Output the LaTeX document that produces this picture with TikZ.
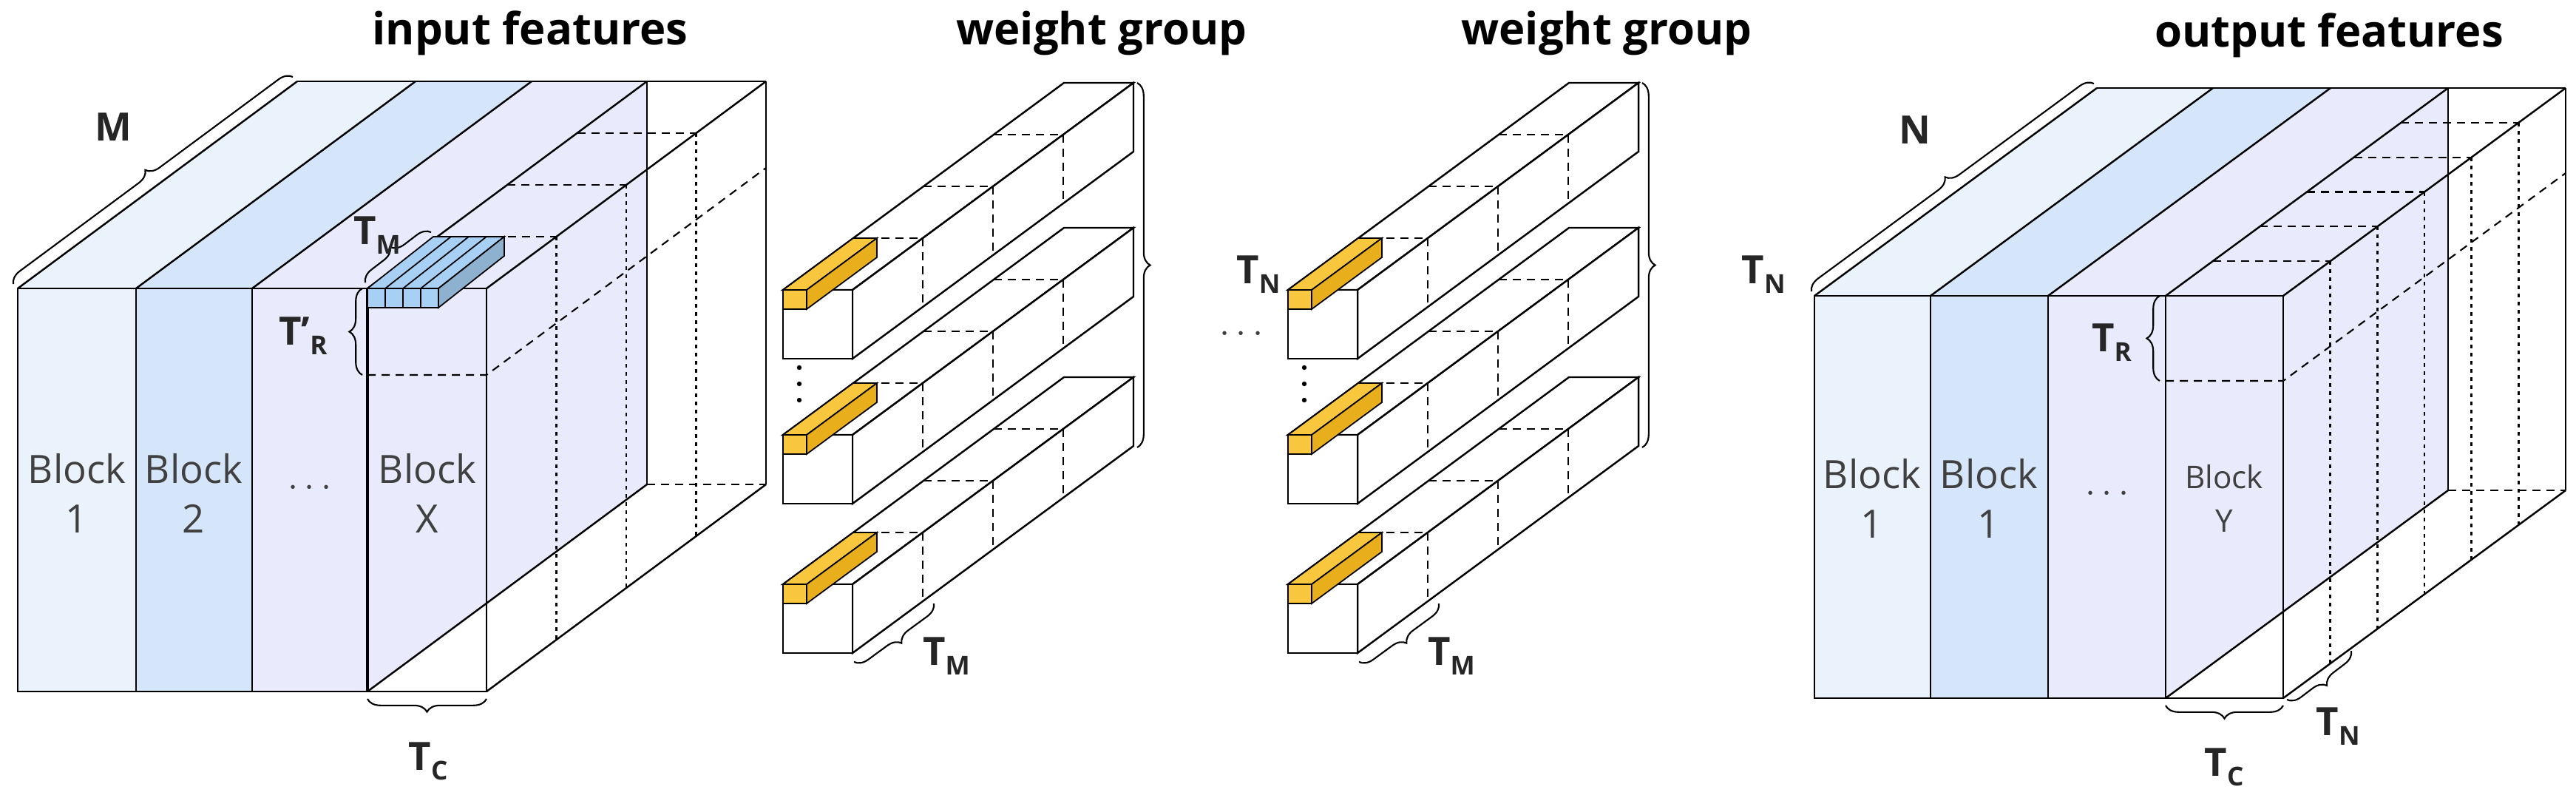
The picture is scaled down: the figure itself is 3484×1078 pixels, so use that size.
\documentclass[tikz,border=0pt]{standalone}
\usepackage{fontspec}
\setmainfont{Open Sans}
\usetikzlibrary{decorations.pathreplacing}
\definecolor{cA}{HTML}{EAF2FC}
\definecolor{cB}{HTML}{D6E6FA}
\definecolor{cC}{HTML}{E9EAFB}
\definecolor{tile}{HTML}{A8D0F5}
\definecolor{yel}{HTML}{F8C73E}
\definecolor{yelD}{HTML}{E9AE1C}
\newcommand\lbl[2]{#1\raisebox{-0.45ex}{\fontsize{10}{12}\selectfont #2}}
\tikzset{
  ln/.style={line width=0.7pt},
  thk/.style={line width=1.1pt},
  dsh/.style={line width=0.6pt,dash pattern=on 1.1mm off 0.8mm},
  dot/.style={line width=0.8pt,dash pattern=on 0.5mm off 0.6mm},
  brc/.style={decorate,decoration={brace,amplitude=5pt},line width=0.6pt},
  title/.style={font=\fontsize{17}{20}\selectfont\bfseries},
  lab/.style={font=\fontsize{15}{18}\selectfont\bfseries,text=black!85},
  blk/.style={font=\fontsize{15}{19}\selectfont,align=center,text=black!75},
}
\newcommand\wbox[2]{%
\begin{scope}[shift={(#1,#2)}]
  \filldraw[ln,fill=white] (0,0) -- (380,-280) -- (474,-280) -- (94,0) -- cycle;
  \filldraw[ln,fill=white] (94,0) -- (474,-280) -- (474,-187) -- (94,93) -- cycle;
  \filldraw[ln,fill=white] (0,0) rectangle (94,93);
  \foreach \t in {0.25,0.5,0.75}{
    \draw[dsh] ({380*\t},{-280*\t}) -- ({94+380*\t},{-280*\t});
    \draw[dsh] ({94+380*\t},{-280*\t}) -- ({94+380*\t},{93-280*\t});
  }
  \filldraw[line width=0.5pt,fill=yel] (0,0) -- (95,-70) -- (127,-70) -- (32,0) -- cycle;
  \filldraw[line width=0.5pt,fill=yelD] (32,0) -- (127,-70) -- (127,-44) -- (32,26) -- cycle;
  \filldraw[line width=0.5pt,fill=yel] (0,0) rectangle (32,26);
\end{scope}}
\begin{document}
\begin{tikzpicture}[x=0.01cm,y=-0.01cm]
\useasboundingbox (0,0) rectangle (3484,1078);
% ================= input cube
\fill[cA] (24,390) rectangle (184,935);
\fill[cA] (24,390) -- (184,390) -- (562,110) -- (402,110) -- cycle;
\fill[cB] (184,390) rectangle (341,935);
\fill[cB] (184,390) -- (341,390) -- (719,110) -- (562,110) -- cycle;
\fill[cC] (341,390) -- (341,935) -- (497,935) -- (875,655) -- (875,110) -- (719,110) -- cycle;
\foreach \t in {0.25,0.5,0.75}{
  \draw[dsh] ({497+378*\t},{390-280*\t}) -- ({658+378*\t},{390-280*\t});
  \draw[dot] ({658+378*\t},{390-280*\t}) -- ({658+378*\t},{935-280*\t});
}
\draw[dsh] (497,507) -- (658,507) -- (1036,227);
\draw[dsh] (875,655) -- (1036,655);
\draw[ln] (24,390) rectangle (658,935);
\foreach \x in {184,341}{\draw[ln] (\x,390) -- (\x,935);}
\draw[thk] (497,390) -- (497,935);
\foreach \x in {24,184,341,497,658}{\draw[ln] (\x,390) -- ++(378,-280);}
\draw[ln] (402,110) -- (1036,110);
\draw[ln] (875,110) -- (875,655);
\draw[ln] (1036,110) -- (1036,655);
\draw[ln] (497,935) -- (875,655);
\draw[ln] (658,935) -- (1036,655);
% tile
\filldraw[line width=0.5pt,fill=tile] (497,390) -- (586,320) -- (682,320) -- (593,390) -- cycle;
\filldraw[line width=0.5pt,fill=tile!85!black] (593,390) -- (682,320) -- (682,346) -- (593,416) -- cycle;
\filldraw[line width=0.5pt,fill=tile] (497,390) rectangle (593,416);
\foreach \x in {521,545,569}{\draw[line width=0.5pt] (\x,416) -- (\x,390) -- ++(89,-70);}
% braces
\draw[brc] (18,384) -- (396,104);
\draw[brc] (490,507) -- (490,390);
\draw[brc] (658,945) -- (497,945);
\draw[brc] (494,382) -- (583,314);
\node[lab] (M) at (153,172) {M};
\node[lab] (tm1) at (510,318) {\lbl{T}{M}};
\node[lab] (tr1) at (410,454) {\lbl{T'}{R}};
\node[lab] (tc1) at (579,1029) {\lbl{T}{C}};
\node[blk] (b11) at (104,667) {Block\\1};
\node[blk] (b12) at (262,667) {Block\\2};
\node[blk] (b13) at (419,660) {\textbf{$\cdots$}};
\node[blk] (b1x) at (578,667) {Block\\X};
\node[title] (t1) at (717,45) {input features};
% ================= weight groups
\foreach \gx in {1059,1742}{
  \wbox{\gx}{790}
  \wbox{\gx}{588}
  \wbox{\gx}{392}
  \foreach \dy in {497,519,541}{\fill (\gx+22,\dy) circle (3.2);}
}
\draw[brc] (1538,112) -- (1538,605);
\draw[brc] (2221,112) -- (2221,605);
\draw[brc] (1263,816) -- (1155,895);
\draw[brc] (1946,816) -- (1838,895);
\node[lab] (tn2) at (1702,371) {\lbl{T}{N}};
\node[lab] (tn3) at (2385,371) {\lbl{T}{N}};
\node[lab] (tm2) at (1280,887) {\lbl{T}{M}};
\node[lab] (tm3) at (1963,887) {\lbl{T}{M}};
\node[blk] (dots) at (1679,452) {$\cdots$};
\node[title] (t2) at (1490,45) {weight group};
\node[title] (t3) at (2173,45) {weight group};
% ================= output cube
\fill[cA] (2454,400) rectangle (2611,944);
\fill[cA] (2454,400) -- (2611,400) -- (2993,119) -- (2836,119) -- cycle;
\fill[cB] (2611,400) rectangle (2770,944);
\fill[cB] (2611,400) -- (2770,400) -- (3152,119) -- (2993,119) -- cycle;
\fill[cC] (2770,400) -- (2770,944) -- (2929,944) -- (3311,663) -- (3311,119) -- (3152,119) -- cycle;
\foreach \t in {0.1667,0.3333,0.5,0.6667,0.8333}{
  \draw[dsh] ({2929+382*\t},{400-281*\t}) -- ({3088+382*\t},{400-281*\t});
  \draw[dot] ({3088+382*\t},{400-281*\t}) -- ({3088+382*\t},{944-281*\t});
}
\draw[dsh] (2929,515) -- (3088,515) -- (3470,234);
\draw[dsh] (3311,663) -- (3470,663);
\draw[ln] (2454,400) rectangle (3088,944);
\foreach \x in {2611,2770,2929}{\draw[ln] (\x,400) -- (\x,944);}
\foreach \x in {2454,2611,2770,2929,3088}{\draw[ln] (\x,400) -- ++(382,-281);}
\draw[ln] (2836,119) -- (3470,119);
\draw[line width=0.5pt] (3311,119) -- (3311,663);
\draw[ln] (3470,119) -- (3470,663);
\draw[ln] (2929,944) -- (3311,663);
\draw[ln] (3088,944) -- (3470,663);
\draw[brc] (2450,394) -- (2832,113);
\draw[brc] (2921,515) -- (2921,400);
\draw[brc] (3088,954) -- (2929,954);
\draw[brc] (3180,880) -- (3093,946);
\node[lab] (N) at (2590,176) {N};
\node[lab] (tr2) at (2856,463) {\lbl{T}{R}};
\node[lab] (tc2) at (3008,1037) {\lbl{T}{C}};
\node[lab] (tn4) at (3162,982) {\lbl{T}{N}};
\node[blk] (b21) at (2532,674) {Block\\1};
\node[blk] (b22) at (2690,674) {Block\\1};
\node[blk] (b23) at (2850,668) {$\cdots$};
\node[blk,font=\fontsize{12}{17}\selectfont] (b2y) at (3008,674) {Block\\Y};
\node[title] (t4) at (3150,48) {output features};
\end{tikzpicture}
\end{document}
